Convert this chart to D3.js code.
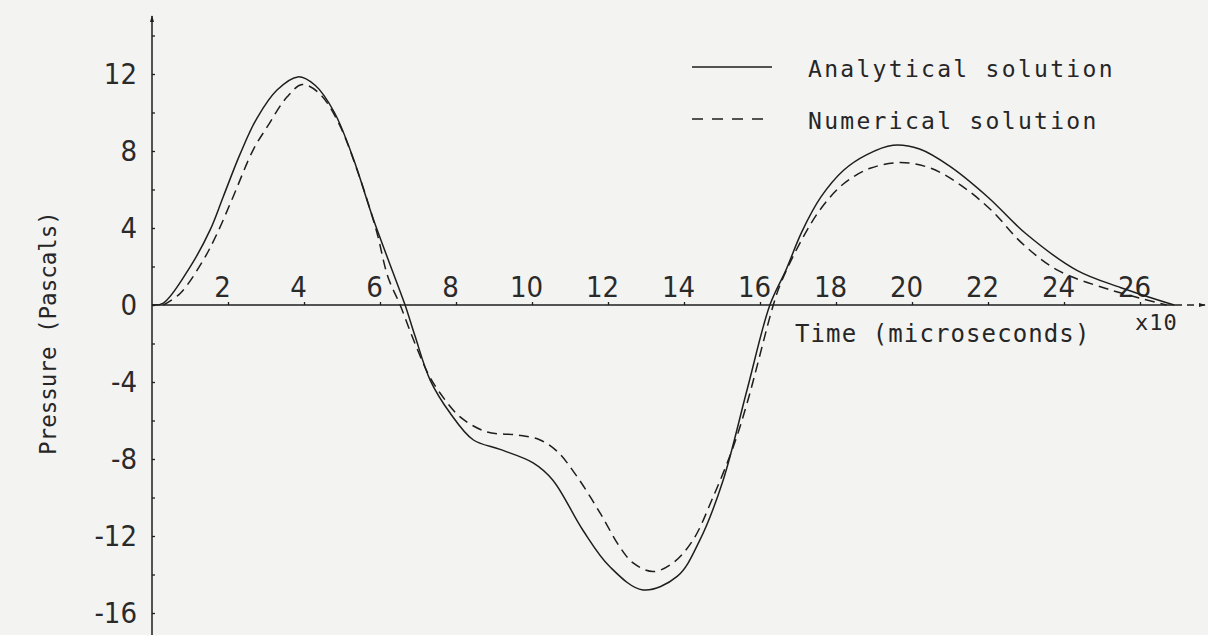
<!DOCTYPE html>
<html>
<head>
<meta charset="utf-8">
<script src="https://cdn.jsdelivr.net/npm/d3@7/dist/d3.min.js"></script>
<style>
  html, body { margin: 0; padding: 0; background: #f3f3f2; }
  svg { display: block; }
  .tick-label { font-family: "Liberation Sans Narrow", "DejaVu Sans Condensed", "Liberation Sans", sans-serif; font-size: 29px; fill: #2a2a2a; }
  .mono { font-family: "DejaVu Sans Mono", "Liberation Mono", monospace; fill: #262626; }
</style>
</head>
<body>
<svg id="chart" width="1208" height="635"></svg>
<script>
// Time in units of 10 microseconds, pressure in pascals
const timeAnalytical = [0, 0.3, 1.0, 1.53, 1.87, 2.32, 2.76, 3.29, 3.84, 4.3, 4.8, 5.3, 5.8, 6.34, 6.66, 6.92, 7.32, 7.84, 8.45, 9.16, 10.03, 10.55, 11.34, 12.05, 12.92, 13.82, 14.42, 15.03, 15.66, 16.26, 16.68, 17.1, 17.6, 18.2, 18.8, 19.5, 20.2, 21.0, 22.0, 23.0, 24.34, 25.5, 26.9];
const analytical     = [0, 0.1, 1.97, 3.9, 5.6, 7.85, 9.7, 11.17, 11.85, 11.4, 10.0, 7.6, 4.6, 1.7, 0, -1.6, -3.9, -5.6, -7.0, -7.5, -8.2, -9.1, -11.7, -13.6, -14.8, -14.1, -12.2, -9.1, -4.4, 0, 1.8, 3.8, 5.6, 7.0, 7.8, 8.3, 8.1, 7.2, 5.6, 3.7, 1.8, 0.9, 0];

const timeNumerical = [0.3, 0.74, 1.34, 1.71, 2.13, 2.66, 3.03, 3.55, 3.95, 4.4, 4.9, 5.4, 5.9, 6.21, 6.53, 6.9, 7.3, 7.58, 8.1, 8.82, 9.6, 10.2, 10.66, 11.18, 11.79, 12.32, 12.66, 13.18, 13.71, 14.24, 14.76, 15.29, 15.66, 16.35, 16.55, 17.1, 17.6, 18.2, 18.9, 19.7, 20.5, 21.3, 22.1, 22.9, 23.84, 25.2, 26.7];
const numerical     = [0, 0.6, 2.3, 3.7, 5.6, 8.05, 9.25, 10.8, 11.45, 11.0, 9.5, 7.0, 3.9, 1.45, 0, -1.9, -3.7, -4.57, -5.8, -6.6, -6.75, -7.0, -7.6, -8.9, -10.8, -12.6, -13.4, -13.85, -13.4, -12.2, -10.0, -7.4, -5.1, 0, 1.15, 3.4, 5.0, 6.3, 7.1, 7.4, 7.1, 6.2, 4.9, 3.2, 1.8, 0.8, 0];

const xTickValues = [2, 4, 6, 8, 10, 12, 14, 16, 18, 20, 22, 24, 26];
const yTickValues = [-16, -12, -8, -4, 0, 4, 8, 12];
const legendLabels = ["Analytical solution", "Numerical solution"];

const svg = d3.select("#chart");
const ink = "#1e1e1e";

const x = d3.scaleLinear().domain([0, 26]).range([152, 1140]);
const y = d3.scaleLinear().domain([-16, 14]).range([613, 35.5]);

// Arrowhead marker for the axes
svg.append("defs").append("marker")
  .attr("id", "arrow")
  .attr("viewBox", "0 0 10 10")
  .attr("refX", 9).attr("refY", 5)
  .attr("markerWidth", 7).attr("markerHeight", 7)
  .attr("markerUnits", "userSpaceOnUse")
  .attr("orient", "auto")
  .append("path").attr("d", "M0,2 L10,5 L0,8 Z").attr("fill", ink);

// Axis lines
svg.append("line")
  .attr("x1", x(0)).attr("x2", x(0))
  .attr("y1", 635).attr("y2", 16)
  .attr("stroke", ink).attr("stroke-width", 1.5)
  .attr("marker-end", "url(#arrow)");

svg.append("line")
  .attr("x1", x(0)).attr("x2", 1175)
  .attr("y1", y(0)).attr("y2", y(0))
  .attr("stroke", ink).attr("stroke-width", 1.5);
svg.append("line")
  .attr("x1", 1175).attr("x2", 1205)
  .attr("y1", y(0)).attr("y2", y(0))
  .attr("stroke", ink).attr("stroke-width", 1.5)
  .attr("stroke-dasharray", "7,5")
  .attr("marker-end", "url(#arrow)");

// X axis: ticks pointing up, labels above the axis
const xAxis = svg.append("g")
  .attr("transform", `translate(0,${y(0)})`)
  .call(d3.axisTop(x).tickValues(xTickValues).tickSize(3).tickPadding(5).tickFormat(d3.format("d")));
xAxis.select(".domain").remove();
xAxis.selectAll(".tick line").attr("stroke", ink).attr("stroke-width", 1.3);
xAxis.selectAll(".tick text").attr("class", "tick-label").attr("dx", -6)
  .attr("font-family", null).attr("font-size", null).attr("fill", null);

// Y axis: minor ticks every 2 Pa on the right of the axis
const yMinor = svg.append("g")
  .attr("transform", `translate(${x(0)},0)`)
  .call(d3.axisRight(y).tickValues(d3.range(-16, 15, 2)).tickSize(3).tickFormat(""));
yMinor.select(".domain").remove();
yMinor.selectAll(".tick line").attr("stroke", ink).attr("stroke-width", 1.3);

// Y axis labels
const yAxis = svg.append("g")
  .attr("transform", `translate(${x(0)},0)`)
  .call(d3.axisLeft(y).tickValues(yTickValues).tickSize(0).tickPadding(15).tickFormat(d3.format("d")));
yAxis.select(".domain").remove();
yAxis.selectAll(".tick text").attr("class", "tick-label")
  .attr("font-family", null).attr("font-size", null).attr("fill", null)
  .text(d => d < 0 ? "-" + Math.abs(d) : d);

// Curves
const line = d3.line().curve(d3.curveCatmullRom.alpha(0.5)).x(d => x(d[0])).y(d => y(d[1]));

svg.append("path")
  .datum(d3.zip(timeAnalytical, analytical))
  .attr("d", line)
  .attr("fill", "none").attr("stroke", ink).attr("stroke-width", 1.5);

svg.append("path")
  .datum(d3.zip(timeNumerical, numerical))
  .attr("d", line)
  .attr("fill", "none").attr("stroke", ink).attr("stroke-width", 1.5)
  .attr("stroke-dasharray", "10,6");

// Legend
const legend = svg.append("g");
const legendRows = [
  { label: legendLabels[0], dash: null, y: 67 },
  { label: legendLabels[1], dash: "11,9", y: 119 }
];
legendRows.forEach(r => {
  legend.append("line")
    .attr("x1", 692).attr("x2", 772).attr("y1", r.y).attr("y2", r.y)
    .attr("stroke", ink).attr("stroke-width", 1.3)
    .attr("stroke-dasharray", r.dash);
  legend.append("text")
    .attr("class", "mono")
    .attr("x", 808).attr("y", r.y + 10)
    .attr("font-size", 23).attr("letter-spacing", 2.3)
    .text(r.label);
});

// Axis titles
svg.append("text")
  .attr("class", "mono")
  .attr("transform", "translate(56,333) rotate(-90)")
  .attr("text-anchor", "middle")
  .attr("font-size", 22.5).attr("letter-spacing", 0)
  .text("Pressure (Pascals)");

svg.append("text")
  .attr("class", "mono")
  .attr("x", 795).attr("y", 342)
  .attr("font-size", 24).attr("letter-spacing", 1.1)
  .text("Time (microseconds)");

svg.append("text")
  .attr("class", "mono")
  .attr("x", 1135).attr("y", 330)
  .attr("font-size", 22).attr("letter-spacing", 1)
  .text("x10");
</script>
</body>
</html>
